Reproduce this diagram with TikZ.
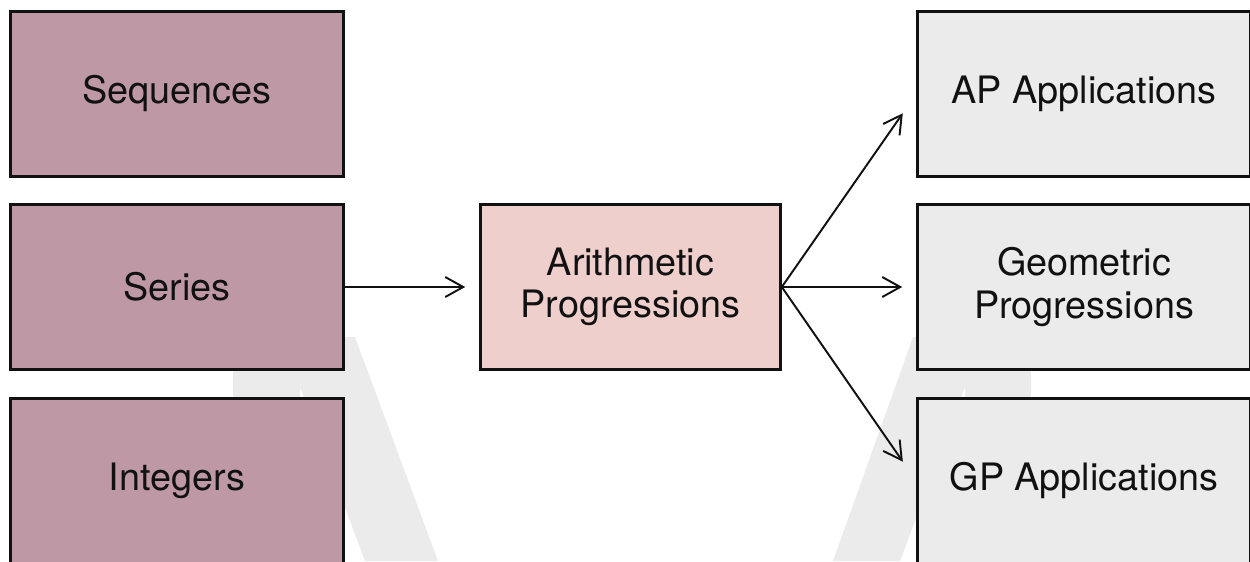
\documentclass[tikz,border=0pt]{standalone}
\usepackage{fontspec}
\setmainfont{TeX Gyre Heros}
\usetikzlibrary{arrows.meta}
\definecolor{topicfill}{HTML}{BF98A6}
\definecolor{focusfill}{HTML}{EECFCC}
\definecolor{nextfill}{HTML}{EBEBEB}
\definecolor{markfill}{HTML}{EBEBEB}
\definecolor{inkcol}{HTML}{111111}
\tikzset{
  card/.style={draw=inkcol, line width=1.5pt, minimum width=6.66cm, minimum height=3.3cm,
    inner sep=0pt, align=center, text=inkcol,
    font=\fontsize{21.5}{24}\selectfont},
  topic/.style={card, fill=topicfill},
  focus/.style={card, fill=focusfill, minimum width=6.0cm},
  nextstep/.style={card, fill=nextfill},
  link/.style={draw=inkcol, line width=1.1pt, -{Straight Barb[length=0.36cm, width=0.4cm, line width=1.1pt]}}
}
\begin{document}
\begin{tikzpicture}[x=0.02cm, y=-0.02cm]
  \useasboundingbox (0,0) rectangle (1250,561);
  \clip (0,0) rectangle (1250,561);
  \fill[white] (0,0) rectangle (1250,561);
  % large faded letter behind the cards
  \fill[markfill] (233,337) -- (355,337) -- (438,561) -- (365,561) -- (300,387)
                  -- (300,561) -- (233,561) -- cycle;
  \fill[markfill] (1031,337) -- (913,337) -- (833,561) -- (900,561) -- (965,387)
                  -- (965,561) -- (1031,561) -- cycle;
  % left column
  \node[topic]    (seq) at (177,94)  {Sequences};
  \node[topic]    (ser) at (177,287) {Series};
  \node[topic]    (int) at (177,481) {Integers};
  % centre
  \node[focus]    (ap)  at (630.5,287) {Arithmetic\\Progressions};
  % right column
  \node[nextstep] (apa) at (1084,94)  {AP Applications};
  \node[nextstep] (gp)  at (1084,287) {Geometric\\Progressions};
  \node[nextstep] (gpa) at (1084,481) {GP Applications};
  % connectors
  \draw[link, shorten >=0.28cm] (ser.east) -- (ap.west);
  \draw[link, shorten >=0.47cm] (ap.east) -- (apa.west);
  \draw[link, shorten >=0.28cm] (ap.east) -- (gp.west);
  \draw[link, shorten >=0.47cm] (ap.east) -- (gpa.west);
\end{tikzpicture}
\end{document}
